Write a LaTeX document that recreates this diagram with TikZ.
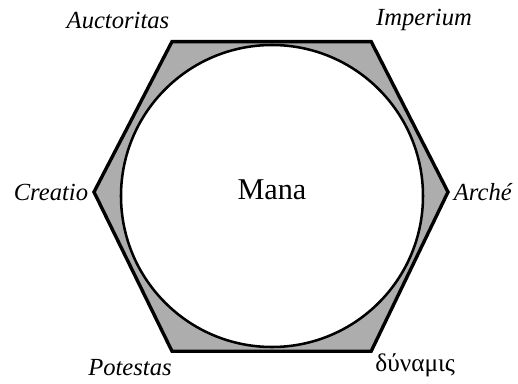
\documentclass[tikz,border=0pt]{standalone}
\usepackage{fontspec}
\setmainfont{Liberation Serif}
\begin{document}
\begin{tikzpicture}[
  hexline/.style={line width=2.4pt, line join=miter},
  ring/.style={line width=1.8pt},
  shade/.style={fill=black!32},
  lbl/.style={font=\fontsize{17.5}{20}\selectfont\itshape, inner sep=1pt},
  mid/.style={font=\fontsize{21.5}{24}\selectfont, inner sep=1pt}
]
\useasboundingbox (-6.8,-4.675) rectangle (6.15,4.9);
% hexagon corners
\coordinate (tl) at (-2.5, 3.86);
\coordinate (tr) at (2.48, 3.86);
\coordinate (r)  at (4.4, 0.1);
\coordinate (br) at (2.48, -3.88);
\coordinate (bl) at (-2.5, -3.88);
\coordinate (l)  at (-4.45, 0.1);
% gray corners, then the circle
\path[shade] (tl) -- (tr) -- (r) -- (br) -- (bl) -- (l) -- cycle;
\fill[white] (0,0) circle (3.775);
\draw[ring] (0,0) circle (3.775);
\draw[hexline] (tl) -- (tr) -- (r) -- (br) -- (bl) -- (l) -- cycle;
% labels
\node[mid] (mana) at (0, 0.15) {Mana};
\node[lbl] (auct) at (-3.85, 4.4) {Auctoritas};
\node[lbl] (imp) at (3.8, 4.4) {Imperium};
\node[lbl, left=3pt] (crea) at (l) {Creatio};
\node[lbl, right=3pt] (arch) at (r) {Arché};
\node[lbl] (pot) at (-3.55, -4.3) {Potestas};
\node[mid, font=\fontsize{18}{21}\selectfont] (dyn) at (3.58, -4.23) {δύναμις};
\end{tikzpicture}
\end{document}
